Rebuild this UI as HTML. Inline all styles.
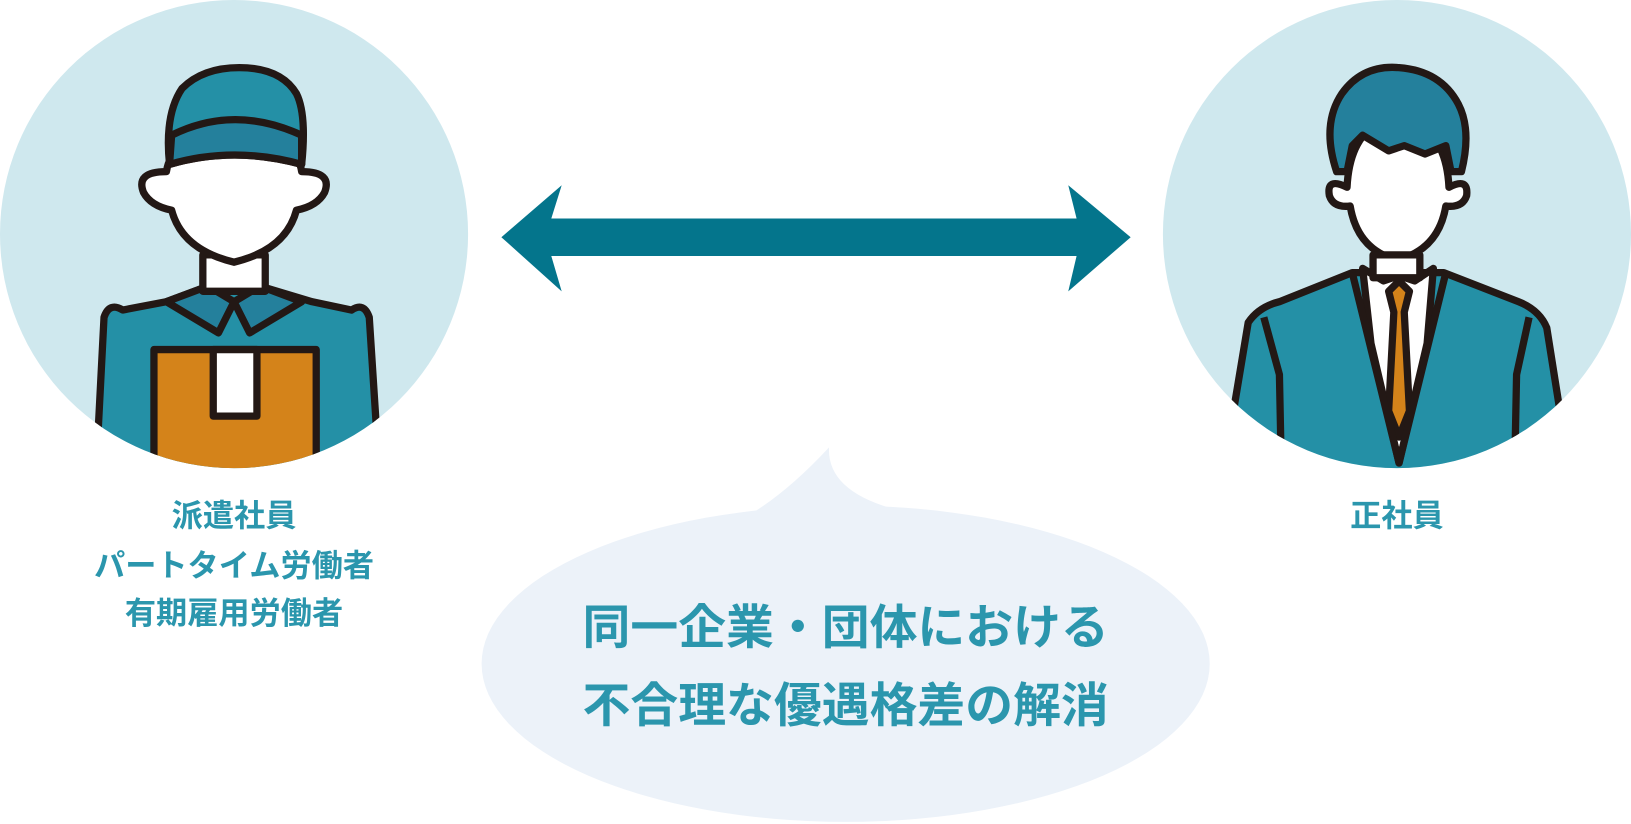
<!DOCTYPE html>
<html><head><meta charset="utf-8"><style>
html,body{margin:0;padding:0;background:#fff;width:1631px;height:824px;overflow:hidden}
svg{display:block}
text{font-family:"Liberation Sans","Noto Sans CJK JP",sans-serif;font-weight:bold;fill:#2b96ad;text-anchor:middle}
</style></head><body>
<svg width="1631" height="824" viewBox="0 0 1568 792" preserveAspectRatio="none">
<defs>
<clipPath id="cl"><circle cx="225" cy="225" r="225"/></clipPath>
<clipPath id="cr"><circle cx="1343" cy="225" r="225"/></clipPath>
</defs>
<circle cx="225" cy="225" r="225" fill="#cfe8ee"/>
<circle cx="1343" cy="225" r="225" fill="#cfe8ee"/>
<g clip-path="url(#cl)" stroke="#231815" stroke-width="7" stroke-linejoin="round">
 <path d="M92,460 L100,305 Q105,290 118,298 L160,290 L200,275 L250,275 L300,290 L338,298 Q350,290 355,305 L365,460 Z" fill="#2490a6"/>
 <path d="M160,290 L200,275 L225,290 L210,320 Z M290,290 L250,275 L225,290 L240,320 Z" fill="#24809c"/>
 <rect x="195" y="245" width="60" height="35" fill="#fff"/>
 <rect x="148" y="336" width="156" height="130" fill="#d4831a"/>
 <rect x="205" y="336" width="42" height="64" fill="#fff"/>
 <path d="M160,165 Q130,165 138,185 Q145,198 165,202 Q175,240 225,252 Q275,240 285,202 Q305,198 312,185 Q320,165 290,165 Q285,130 225,125 Q165,130 160,165 Z" fill="#fff"/>
 <path d="M163,158 Q158,110 175,85 Q195,65 230,65 Q270,65 285,90 Q295,110 290,158 Q225,140 163,158 Z" fill="#2490a6"/>
 <path d="M165,130 Q225,100 290,130 L290,158 Q225,140 163,158 Z" fill="#24809c"/>
</g>
<g clip-path="url(#cr)" stroke="#231815" stroke-width="7" stroke-linejoin="round">
 <path d="M1175,460 L1200,310 Q1210,295 1230,290 L1300,262 L1388,262 L1460,290 Q1480,298 1487,315 L1510,460 Z" fill="#2490a6"/>
 <path d="M1310,258 L1330,270 L1345,265 L1360,270 L1378,258 L1372,330 L1345,445 L1318,330 Z" fill="#fff"/>
 <path d="M1335,280 L1345,270 L1355,280 L1350,300 L1355,395 L1345,420 L1335,395 L1340,300 Z" fill="#d4831a"/>
 <path d="M1300,262 L1345,445 L1390,262" fill="none"/>
 <path d="M1215,305 L1230,360 L1232,460 M1470,305 L1458,360 L1456,460" fill="none"/>
 <path d="M1295,180 Q1275,170 1278,188 Q1282,200 1298,198 Q1305,240 1343,250 Q1383,240 1390,198 Q1406,200 1410,188 Q1412,170 1393,180 Q1390,120 1343,112 Q1298,120 1295,180 Z" fill="#fff"/>
 <path d="M1285,165 Q1270,120 1290,90 Q1310,62 1345,65 Q1385,68 1402,100 Q1415,125 1405,165 L1395,165 L1390,140 L1370,148 L1350,140 L1335,145 L1310,130 L1300,140 L1295,165 Z" fill="#24809c"/>
 <rect x="1320" y="245" width="45" height="22" fill="#fff"/>
</g>
<polygon points="482,228 540,178 530,210 1035,210 1027,178 1087,228 1027,280 1035,246 530,246 540,280" fill="#04758c"/>
<ellipse cx="813" cy="638" rx="350" ry="152" fill="#ecf2f9"/>
<path d="M725,492 Q760,470 797,430 Q795,470 855,488 Z" fill="#ecf2f9"/>
<text x="813" y="619" font-size="46">同一企業・団体における</text>
<text x="813" y="694" font-size="46">不合理な優遇格差の解消</text>
<text x="225" y="506" font-size="30">派遣社員</text>
<text x="225" y="554" font-size="30">パートタイム労働者</text>
<text x="225" y="600" font-size="30">有期雇用労働者</text>
<text x="1343" y="506" font-size="30">正社員</text>
</svg>
</body></html>
